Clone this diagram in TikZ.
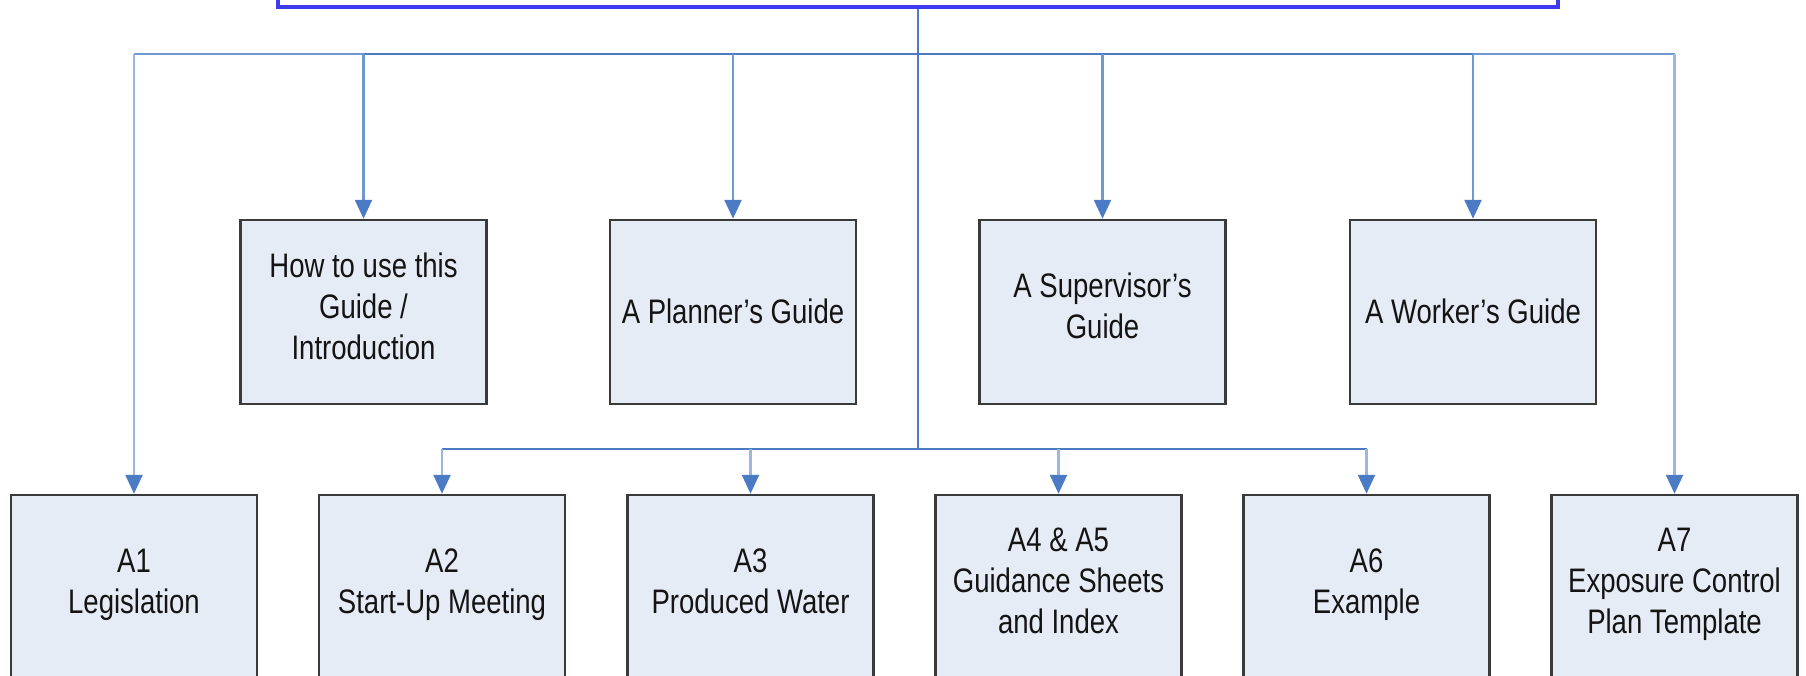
\documentclass[tikz,border=0pt]{standalone}
\usepackage{fontspec}
\setmainfont[FakeStretch=0.81]{Liberation Sans}
\usetikzlibrary{arrows.meta}

\definecolor{frameblue}{HTML}{3C3CEE}
\definecolor{linkmain}{HTML}{4A7BC4}
\definecolor{linkmid}{HTML}{6F97D0}
\definecolor{linkpale}{HTML}{9DB8E0}
\definecolor{boxfill}{HTML}{E6ECF6}
\definecolor{boxline}{HTML}{3A3A3A}
\definecolor{txt}{HTML}{141414}

\begin{document}
\begin{tikzpicture}[x=1pt,y=-1pt,
  guidebox/.style={draw=boxline, line width=2.5pt, fill=boxfill,
    minimum width=246pt, minimum height=184pt, inner sep=0pt,
    align=center, text=txt, font=\fontsize{34}{41}\selectfont,
    execute at begin node=\rule{0pt}{35.7pt},
    execute at end node=\strut},
  headbox/.style={draw=frameblue, line width=3.5pt, fill=white,
    minimum width=1280pt, minimum height=80pt, inner sep=0pt},
  link/.style={draw=linkmain, line width=2.5pt},
  midlink/.style={draw=linkmid, line width=2.5pt},
  palelink/.style={draw=linkpale, line width=2.5pt},
  tip/.style={-{Triangle[width=17pt,length=19pt,color=linkmain,fill=linkmain]}}
]
\useasboundingbox (0,0) rectangle (1806,675);

% heading frame (its upper part runs off the page)
\node[headbox, anchor=south] (head) at (918,8.5) {};

% upper row of guides
\node[guidebox] (intro) at (363.5,312) {How to use this\\Guide /\\Introduction};
\node[guidebox] (planner) at (733,312) {A Planner’s Guide};
\node[guidebox] (super) at (1102.5,312) {A Supervisor’s\\Guide};
\node[guidebox] (worker) at (1473,312) {A Worker’s Guide};

% lower row of appendices
\node[guidebox] (a1) at (134,587) {A1\\Legislation};
\node[guidebox] (a2) at (442,587) {A2\\Start-Up Meeting};
\node[guidebox] (a3) at (750.5,587) {A3\\Produced Water};
\node[guidebox] (a4) at (1058.5,587) {A4 \& A5\\Guidance Sheets\\and Index};
\node[guidebox] (a6) at (1366.5,587) {A6\\Example};
\node[guidebox] (a7) at (1674.5,587) {A7\\Exposure Control\\Plan Template};

% bus levels
\coordinate (ubus) at (918,54);
\coordinate (lbus) at (918,449);

% outer branches of the upper bus
\draw[midlink] (a1.north |- ubus) -- (intro.north |- ubus);
\draw[midlink] (worker.north |- ubus) -- (a7.north |- ubus);
\draw[palelink,tip] (a1.north |- ubus) -- (a1.north);
\draw[palelink,tip] (a7.north |- ubus) -- (a7.north);

% upper bus and the trunk
\draw[link] (intro.north |- ubus) -- (worker.north |- ubus);
\draw[link] (head.south) -- (ubus);
\draw[link] (ubus) -- (lbus);

% drops to the guides
\draw[midlink,tip] (intro.north |- ubus) -- (intro.north);
\draw[midlink,tip] (planner.north |- ubus) -- (planner.north);
\draw[midlink,tip] (super.north |- ubus) -- (super.north);
\draw[midlink,tip] (worker.north |- ubus) -- (worker.north);

% lower bus and drops to the appendices
\draw[link] (a2.north |- lbus) -- (a6.north |- lbus);
\draw[palelink,tip] (a2.north |- lbus) -- (a2.north);
\draw[palelink,tip] (a3.north |- lbus) -- (a3.north);
\draw[palelink,tip] (a4.north |- lbus) -- (a4.north);
\draw[palelink,tip] (a6.north |- lbus) -- (a6.north);
\end{tikzpicture}
\end{document}
